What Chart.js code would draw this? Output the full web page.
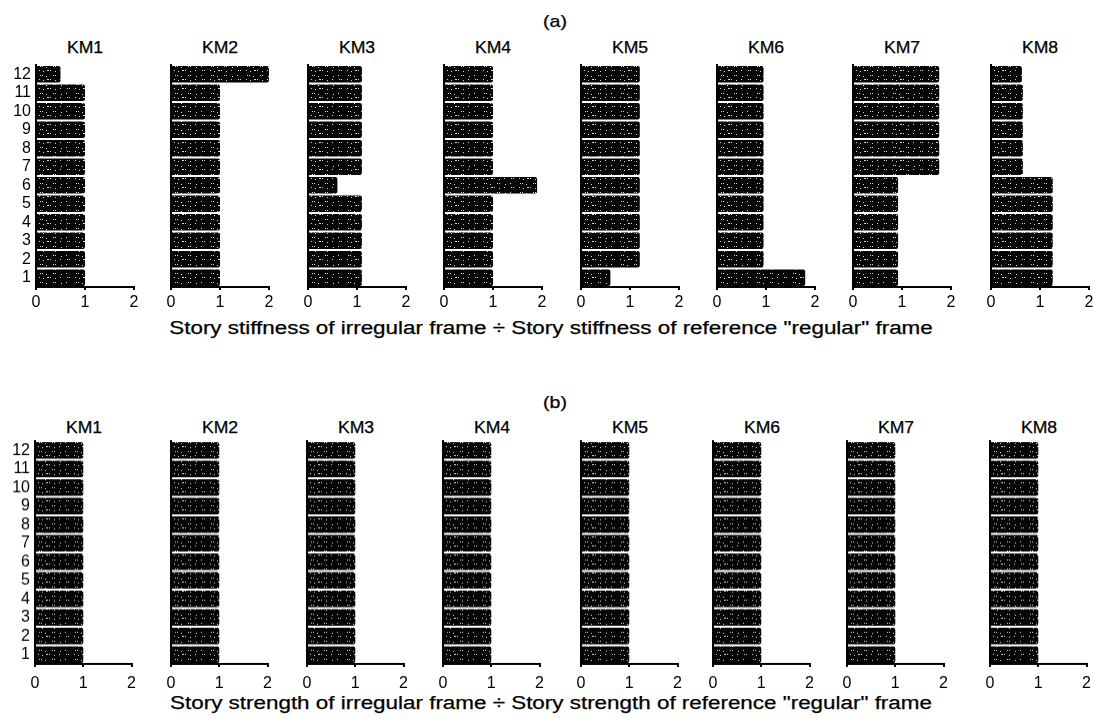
<!DOCTYPE html>
<html>
<head>
<meta charset="utf-8">
<script src="https://cdn.jsdelivr.net/npm/chart.js@4.4.1/dist/chart.umd.min.js"></script>
<style>
  html, body { margin: 0; padding: 0; background: #fff; }
  #page { position: relative; width: 1094px; height: 723px; overflow: hidden;
          font-family: "Liberation Sans", Arial, Helvetica, sans-serif; color: #000; }
  .lbl { position: absolute; white-space: nowrap; line-height: 1; -webkit-text-stroke: 0.25px #000; }
  canvas { position: absolute; }
</style>
</head>
<body>
<div id="page"></div>
<script>
// Story numbers (bottom to top) and frame names
const stories = ['1', '2', '3', '4', '5', '6', '7', '8', '9', '10', '11', '12'];
const frames = ['KM1', 'KM2', 'KM3', 'KM4', 'KM5', 'KM6', 'KM7', 'KM8'];
const tickLabels = ['0', '1', '2'];

// (a) story stiffness ratios, story 1 .. 12
const stiffKM1 = [1.0, 1.0, 1.0, 1.0, 1.0, 1.0, 1.0, 1.0, 1.0, 1.0, 1.0, 0.5];
const stiffKM2 = [1.0, 1.0, 1.0, 1.0, 1.0, 1.0, 1.0, 1.0, 1.0, 1.0, 1.0, 2.0];
const stiffKM3 = [1.1, 1.1, 1.1, 1.1, 1.1, 0.6, 1.1, 1.1, 1.1, 1.1, 1.1, 1.1];
const stiffKM4 = [1.0, 1.0, 1.0, 1.0, 1.0, 1.9, 1.0, 1.0, 1.0, 1.0, 1.0, 1.0];
const stiffKM5 = [0.6, 1.2, 1.2, 1.2, 1.2, 1.2, 1.2, 1.2, 1.2, 1.2, 1.2, 1.2];
const stiffKM6 = [1.8, 0.95, 0.95, 0.95, 0.95, 0.95, 0.95, 0.95, 0.95, 0.95, 0.95, 0.95];
const stiffKM7 = [0.92, 0.92, 0.92, 0.92, 0.92, 0.92, 1.76, 1.76, 1.76, 1.76, 1.76, 1.76];
const stiffKM8 = [1.26, 1.26, 1.26, 1.26, 1.26, 1.26, 0.65, 0.65, 0.65, 0.65, 0.65, 0.63];

// (b) story strength ratios, story 1 .. 12
const strKM1 = [1.0, 1.0, 1.0, 1.0, 1.0, 1.0, 1.0, 1.0, 1.0, 1.0, 1.0, 1.0];
const strKM2 = [1.0, 1.0, 1.0, 1.0, 1.0, 1.0, 1.0, 1.0, 1.0, 1.0, 1.0, 1.0];
const strKM3 = [1.0, 1.0, 1.0, 1.0, 1.0, 1.0, 1.0, 1.0, 1.0, 1.0, 1.0, 1.0];
const strKM4 = [1.0, 1.0, 1.0, 1.0, 1.0, 1.0, 1.0, 1.0, 1.0, 1.0, 1.0, 1.0];
const strKM5 = [1.0, 1.0, 1.0, 1.0, 1.0, 1.0, 1.0, 1.0, 1.0, 1.0, 1.0, 1.0];
const strKM6 = [1.0, 1.0, 1.0, 1.0, 1.0, 1.0, 1.0, 1.0, 1.0, 1.0, 1.0, 1.0];
const strKM7 = [1.0, 1.0, 1.0, 1.0, 1.0, 1.0, 1.0, 1.0, 1.0, 1.0, 1.0, 1.0];
const strKM8 = [1.0, 1.0, 1.0, 1.0, 1.0, 1.0, 1.0, 1.0, 1.0, 1.0, 1.0, 1.0];

const stiffness = [stiffKM1, stiffKM2, stiffKM3, stiffKM4, stiffKM5, stiffKM6, stiffKM7, stiffKM8];
const strength = [strKM1, strKM2, strKM3, strKM4, strKM5, strKM6, strKM7, strKM8];

const FONT = '"Liberation Sans", Arial, Helvetica, sans-serif';
const page = document.getElementById('page');

// Dark halftone-like fill for the bars: mostly black with sparse light specks
function speckledFill() {
  const rows = [
    '....................................',
    '..o.o..........o.o..........o.......',
    '........o..............o............',
    '....................................',
    '....................................',
    '.o.......oo.o.........o......o.o....',
    '.....o...........o..................',
    '....................................',
    '....................................'
  ];
  const c = document.createElement('canvas');
  c.width = rows[0].length; c.height = rows.length;
  const g = c.getContext('2d');
  g.fillStyle = '#050505';
  g.fillRect(0, 0, c.width, c.height);
  g.fillStyle = '#d8d8d8';
  rows.forEach((r, y) => [...r].forEach((ch, x) => { if (ch === 'o') g.fillRect(x, y, 1, 1); }));
  return g.createPattern(c, 'repeat');
}
const fill = speckledFill();

function addLabel(text, x, y, size, sx) {
  const d = document.createElement('div');
  d.className = 'lbl';
  d.textContent = text;
  d.style.left = x + 'px';
  d.style.top = y + 'px';
  d.style.fontSize = size + 'px';
  d.style.transform = 'translate(-50%, -50%) scaleX(' + sx + ')';
  page.appendChild(d);
}

// Panel geometry for each row
const YW = 34, PR = 10, PT = 18, XH = 32, AXW = 98;
const rows = [
  { tag: '(a)', tagY: 21, titleY: 47.5, top: 65, bottom: 287, tickPad: 3,
    zeros: [35.5, 171, 307.5, 443.5, 580.5, 716.5, 852.5, 990.5], data: stiffness,
    xlabel: 'Story stiffness of irregular frame \u00f7 Story stiffness of reference "regular" frame', xlabelY: 328 },
  { tag: '(b)', tagY: 401.5, titleY: 427.5, top: 441, bottom: 663.5, tickPad: 7,
    zeros: [35, 170.5, 306.5, 443, 580.5, 713, 847, 990], data: strength,
    xlabel: 'Story strength of irregular frame \u00f7 Story strength of reference "regular" frame', xlabelY: 703 }
];

rows.forEach(row => {
  addLabel(row.tag, 555, row.tagY, 17, 1.15);
  addLabel(row.xlabel, 551, row.xlabelY, 18, 1.245);
  row.zeros.forEach((x0, i) => {
    addLabel(frames[i], x0 + AXW / 2, row.titleY, 16, 1.1);
    const cv = document.createElement('canvas');
    const w = YW + AXW + PR;
    const h = PT + (row.bottom - row.top) + XH;
    cv.width = w; cv.height = h;
    cv.style.left = (x0 - YW) + 'px';
    cv.style.top = (row.top - PT) + 'px';
    cv.style.width = w + 'px';
    cv.style.height = h + 'px';
    page.appendChild(cv);
    const showStories = i === 0;
    new Chart(cv, {
      type: 'bar',
      data: {
        labels: stories,
        datasets: [{
          data: row.data[i],
          backgroundColor: fill,
          borderWidth: 0,
          borderRadius: 2,
          barPercentage: 0.9,
          categoryPercentage: 1.0
        }]
      },
      options: {
        indexAxis: 'y',
        responsive: false,
        animation: false,
        devicePixelRatio: 1,
        layout: { padding: { top: PT, right: PR, left: 0, bottom: 0 } },
        plugins: { legend: { display: false }, tooltip: { enabled: false }, title: { display: false } },
        scales: {
          x: {
            type: 'linear', min: 0, max: 2,
            afterFit: s => { s.height = XH; },
            grid: { display: true, drawOnChartArea: false, drawTicks: true, tickLength: 3, color: '#000', lineWidth: 2 },
            border: { display: true, color: '#000', width: 2 },
            ticks: { stepSize: 1, padding: row.tickPad, color: '#000', font: { family: FONT, size: 16 },
                     callback: (v, idx) => tickLabels[idx] }
          },
          y: {
            type: 'category', reverse: true, offset: true,
            afterFit: s => { s.width = YW; },
            grid: { display: false, drawTicks: false },
            border: { display: true, color: '#000', width: 2 },
            ticks: { autoSkip: false, padding: 5, color: '#000', font: { family: FONT, size: 16 },
                     callback: function (v) { return showStories ? this.getLabelForValue(v) : ''; } }
          }
        }
      }
    });
  });
});
</script>
</body>
</html>
